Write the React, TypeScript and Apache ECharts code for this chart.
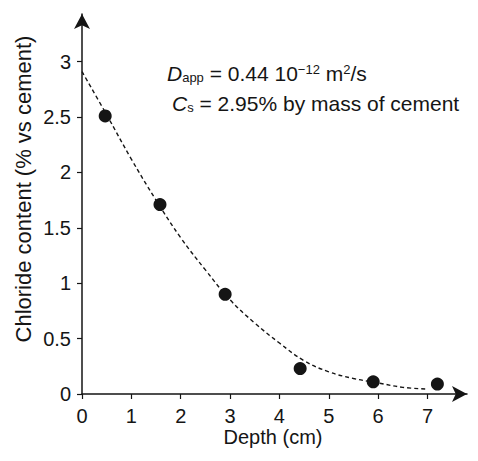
import React, { useEffect, useRef } from "react";
import * as echarts from "echarts";

const pointDepth = [0.47, 1.58, 2.9, 4.42, 5.9, 7.2];
const pointChloride = [2.51, 1.71, 0.9, 0.23, 0.11, 0.09];

const curveDepth = [0, 0.5, 1, 1.5, 2, 2.5, 3, 3.5, 4, 4.5, 5, 5.5, 6, 6.5, 7];
const curveChloride = [2.91, 2.52, 2.12, 1.75, 1.41, 1.12, 0.85, 0.64, 0.46, 0.3, 0.2, 0.14, 0.1, 0.06, 0.045];

const xTitle = "Depth (cm)";
const yTitle = "Chloride content (% vs cement)";

const FONT = "'Liberation Sans', Arial, sans-serif";
const INK = "#151515";

export default function App() {
  const ref = useRef<HTMLDivElement>(null);
  useEffect(() => {
    document.body.style.margin = "0";
    const chart = echarts.init(ref.current!, null, { renderer: "svg" });
    const axisCommon = {
      type: "value" as const,
      min: 0,
      splitLine: { show: false },
      axisLine: {
        show: true,
        lineStyle: { color: INK, width: 1.5 },
        symbol: ["none", "arrow"],
        symbolSize: [12, 15],
      },
      axisTick: { show: true, length: 5, lineStyle: { color: INK, width: 1.2 } },
    };
    chart.setOption({
      animation: false,
      grid: { left: 82, top: 14, bottom: 67, right: 11 },
      xAxis: {
        ...axisCommon,
        max: 7.8,
        interval: 1,
        axisLabel: { showMaxLabel: false, fontSize: 20, color: INK, margin: 12, fontFamily: FONT },
      },
      yAxis: {
        ...axisCommon,
        max: 3.43,
        interval: 0.5,
        axisLabel: { showMaxLabel: false, fontSize: 20, color: INK, margin: 11, fontFamily: FONT },
      },
      graphic: [
        {
          type: "text",
          x: 23,
          y: 189,
          rotation: Math.PI / 2,
          style: {
            text: yTitle,
            fontSize: 22,
            fontFamily: FONT,
            fill: INK,
            align: "center",
            verticalAlign: "middle",
          },
        },
        {
          type: "text",
          x: 273,
          y: 437,
          style: {
            text: xTitle,
            fontSize: 20,
            fontFamily: FONT,
            fill: INK,
            align: "center",
            verticalAlign: "middle",
          },
        },
        {
          type: "text",
          x: 167,
          y: 73,
          style: {
            text: "{i|D}{sub|app} = 0.44 10{sup|−12} m{sup|2}/s",
            fontSize: 21,
            fontFamily: FONT,
            fill: INK,
            verticalAlign: "middle",
            rich: {
              i: { fontStyle: "italic", fontSize: 21, fontFamily: FONT, fill: INK },
              sub: { fontSize: 13, fontFamily: FONT, fill: INK, verticalAlign: "bottom", padding: [8, 0, 0, 0] },
              sup: { fontSize: 13, fontFamily: FONT, fill: INK, verticalAlign: "top", padding: [0, 0, 8, 0] },
            },
          },
        },
        {
          type: "text",
          x: 172,
          y: 103,
          style: {
            text: "{i|C}{sub|s} = 2.95% by mass of cement",
            fontSize: 21,
            fontFamily: FONT,
            fill: INK,
            verticalAlign: "middle",
            rich: {
              i: { fontStyle: "italic", fontSize: 21, fontFamily: FONT, fill: INK },
              sub: { fontSize: 13, fontFamily: FONT, fill: INK, verticalAlign: "bottom", padding: [8, 0, 0, 0] },
            },
          },
        },
      ],
      series: [
        {
          type: "line",
          data: curveDepth.map((d, i) => [d, curveChloride[i]]),
          smooth: 0.4,
          showSymbol: false,
          lineStyle: { color: INK, width: 1.4, type: [4, 3] },
          z: 2,
        },
        {
          type: "scatter",
          data: pointDepth.map((d, i) => [d, pointChloride[i]]),
          symbolSize: 13,
          itemStyle: { color: INK, opacity: 1 },
          z: 3,
        },
      ],
    });
    return () => chart.dispose();
  }, []);
  return <div ref={ref} style={{ width: 478, height: 461 }} />;
}
